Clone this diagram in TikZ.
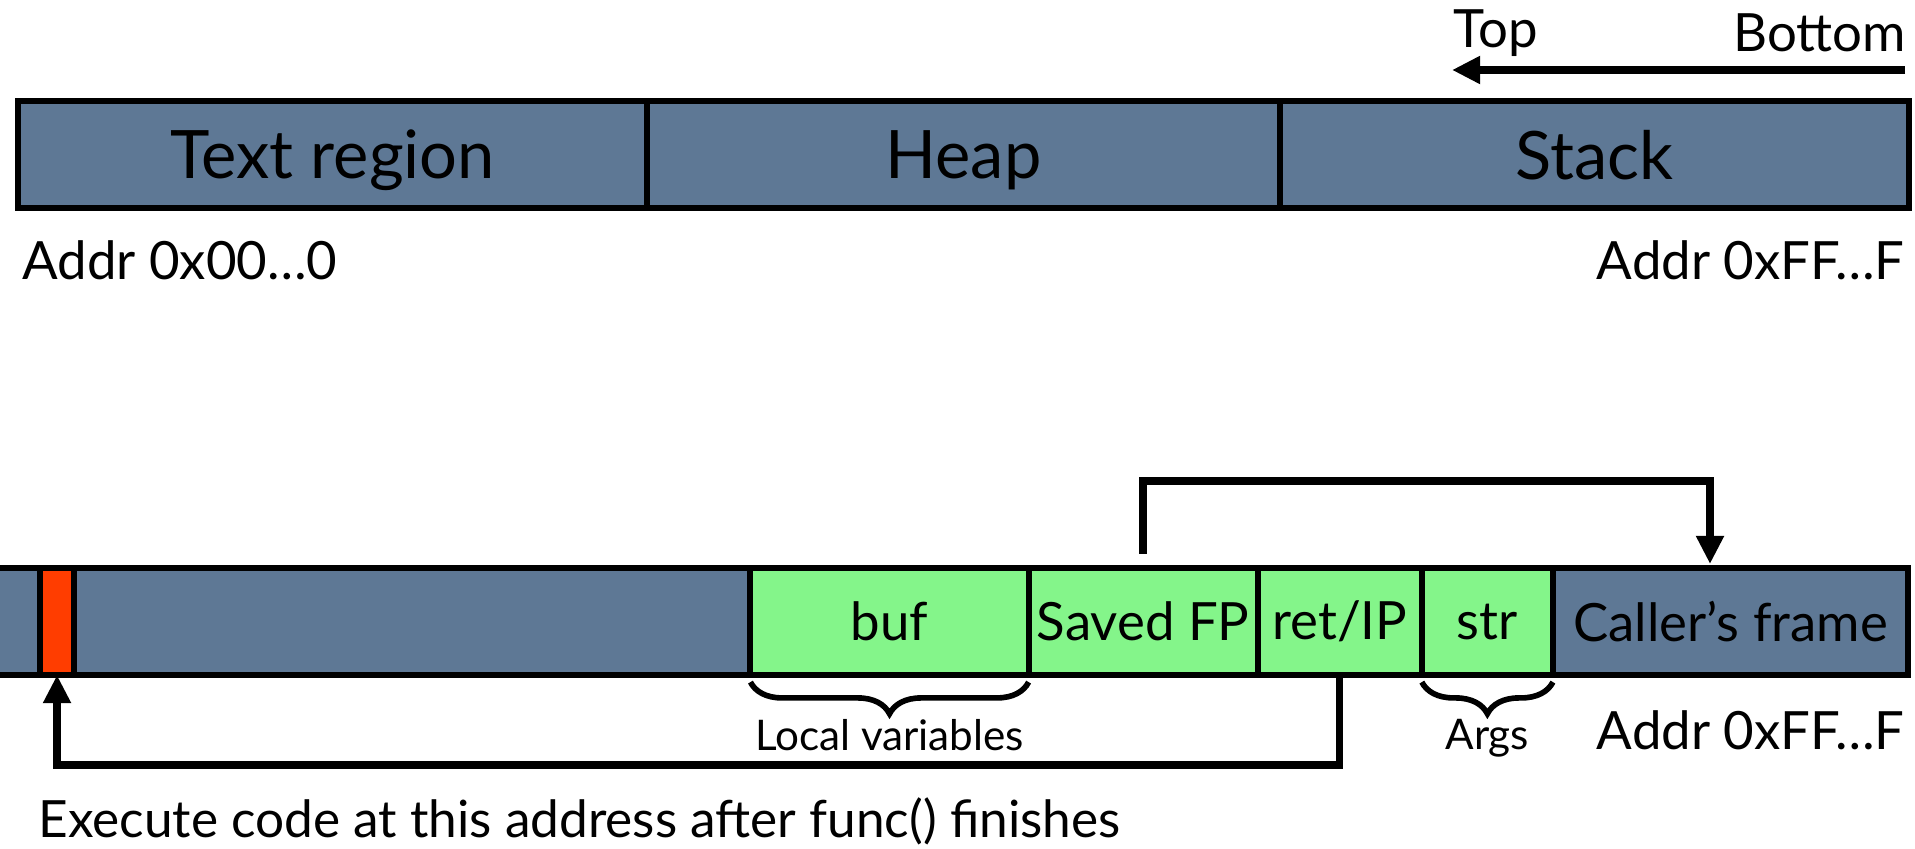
\documentclass[tikz,border=0pt]{standalone}
\usepackage{fontspec}
\setmainfont{Lato}
\usetikzlibrary{arrows.meta,positioning,decorations.pathreplacing}
\definecolor{slate}{HTML}{5E7895}
\definecolor{live}{HTML}{84F58A}
\definecolor{hot}{HTML}{FF3D00}
\newcommand{\regionfont}{\fontsize{19}{22}\selectfont}
\newcommand{\addrfont}{\fontsize{15}{18}\selectfont}
\newcommand{\notefont}{\fontsize{12}{14}\selectfont}
\tikzset{seg/.style={draw=black,line width=1.7pt,fill=slate,outer sep=0pt,inner sep=0pt,minimum height=10.7mm},
frameseg/.style={seg,fill=live,font=\addrfont},
flow/.style={-{Triangle[length=8pt,width=7.5pt]},line width=2.1pt},
under/.style={decorate,decoration={brace,mirror,amplitude=9pt},line width=1.6pt}}

\begin{document}
\begin{tikzpicture}[x=0.01cm,y=-0.01cm]
\useasboundingbox[fill=white] (0,0) rectangle (1915,849);
\node[seg,minimum width=62.9mm,anchor=north west,font=\regionfont,text depth=0pt] (text) at (18,101) {Text region};
\node[seg,minimum width=63.2mm,right=0pt of text,font=\regionfont,text depth=0pt] (heap) {Heap};
\node[seg,minimum width=62.9mm,right=0pt of heap,font=\regionfont,text depth=0pt] (stack) {Stack};
\node[font=\addrfont,anchor=west] (low) at (10,260) {Addr 0x00…0};
\node[font=\addrfont,anchor=east] (high) at (1917,260) {Addr 0xFF…F};
\node[font=\addrfont,anchor=west] (top) at (1441,33) {Top};
\node[font=\addrfont,anchor=east] (bottom) at (1918,33) {Bottom};
\coordinate (grow) at (1905,70);\coordinate (shrink) at (1452,70);
\draw[flow] (grow)--(shrink);

\node[seg,minimum width=6mm,anchor=north west] (pad) at (-20,568) {};
\node[seg,fill=hot,minimum width=3.4mm,right=0pt of pad] (red) {};
\node[seg,minimum width=67.6mm,right=0pt of red] (free) {};
\node[frameseg,minimum width=27.8mm,right=0pt of free] (buf) {buf};
\node[frameseg,minimum width=22.9mm,right=0pt of buf] (saved) {Saved FP};
\node[frameseg,minimum width=16.4mm,right=0pt of saved] (ret) {ret/IP};
\node[frameseg,minimum width=13.1mm,right=0pt of ret] (str) {str};
\node[seg,minimum width=35.5mm,right=0pt of str,font=\addrfont] (caller) {Caller’s frame};
\draw[under] ([yshift=-2pt]buf.south west)--([yshift=-2pt]buf.south east);
\draw[under] ([yshift=-2pt]str.south west)--([yshift=-2pt]str.south east);
\node[font=\notefont] (locals) at ([yshift=-17pt]buf.south) {Local variables};
\node[font=\notefont] (args) at ([yshift=-18pt]str.south) {Args};
\node[font=\addrfont,anchor=east] (end) at (1917,730) {Addr 0xFF…F};
\node[font=\fontsize{14.6}{17}\selectfont,anchor=west] (note) at (26,821) {Execute code at this address after func() finishes};

\coordinate (fp) at (1710,564);
\draw[flow] ([yshift=4pt]saved.north) |- ([yshift=23.6pt]fp) -- (fp);
\draw[flow] (ret.south) -- ++(0,90) -| (red.south);
\end{tikzpicture}
\end{document}
